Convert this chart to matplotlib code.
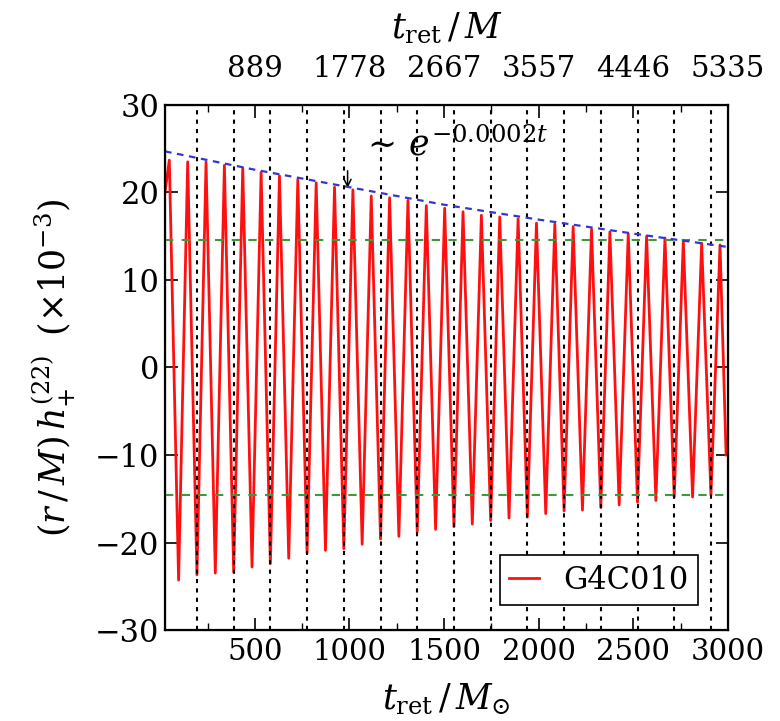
import matplotlib
matplotlib.use('Agg')
import matplotlib.pyplot as plt
from matplotlib.ticker import MultipleLocator

plt.rcParams['font.family'] = ['DejaVu Serif']
plt.rcParams['mathtext.fontset'] = 'dejavuserif'

# waveform extrema (t in M_sun, h in 1e-3)
peak_t = [48, 145, 242, 339, 436, 533, 630, 727, 824, 921, 1018, 1115, 1212, 1309, 1406,
          1503, 1600, 1697, 1794, 1891, 1988, 2085, 2182, 2279, 2376, 2473, 2570, 2667,
          2764, 2861, 2958]
peak_h = [23.7, 23.5, 23.5, 23.1, 22.8, 22.3, 21.9, 21.5, 21.1, 20.6, 20.3, 19.6, 19.4,
          19.1, 18.5, 18.2, 17.8, 17.4, 17.2, 17.0, 16.5, 16.4, 16.1, 15.8, 15.5, 15.3,
          15.0, 14.8, 14.5, 14.2, 14.0]
trough_t = [97, 194, 291, 388, 485, 582, 679, 776, 873, 970, 1067, 1164, 1261, 1358, 1455,
            1552, 1649, 1746, 1843, 1940, 2037, 2134, 2231, 2328, 2425, 2522, 2619, 2716,
            2813, 2910]
trough_h = [-24.3, -23.7, -23.5, -23.4, -22.8, -22.4, -21.8, -21.2, -20.9, -20.7, -20.2,
            -19.6, -19.3, -18.8, -18.5, -18.2, -17.9, -17.5, -17.2, -17.1, -16.7, -16.4,
            -16.3, -16.0, -15.7, -15.4, -15.2, -14.8, -14.8, -14.6]
start_pt = (25, 20.0)
end_pt = (2990, -10.0)

# exponential envelope fit, read at a few times
fit_t = [25, 500, 1000, 1500, 2000, 2500, 2990]
fit_h = [24.7, 22.6, 20.6, 18.6, 16.9, 15.3, 13.8]

band = 14.6
vline_t = [194, 388, 582, 776, 970, 1164, 1358, 1552, 1746, 1940, 2134, 2328, 2522, 2716, 2910]

bottom_ticks = [500, 1000, 1500, 2000, 2500, 3000]
top_labels = ['889', '1778', '2667', '3557', '4446', '5335']
y_ticks = [-30, -20, -10, 0, 10, 20, 30]

# join extrema into one curve
wave_t = [start_pt[0]]
wave_h = [start_pt[1]]
for i in range(len(peak_t)):
    wave_t.append(peak_t[i])
    wave_h.append(peak_h[i])
    if i < len(trough_t):
        wave_t.append(trough_t[i])
        wave_h.append(trough_h[i])
wave_t.append(end_pt[0])
wave_h.append(end_pt[1])

fig = plt.figure(figsize=(7.8, 7.21), dpi=100)
ax = fig.add_axes([0.2115, 0.1262, 0.7218, 0.7282])

ax.plot(wave_t, wave_h, color='#ff1010', lw=2.0, label='G4C010', zorder=2)
for v in vline_t:
    ax.axvline(v, color='black', lw=1.5, ls=(0, (2, 2.5)), zorder=3)
ax.axhline(band, color='#3c9a3c', lw=1.5, ls=(0, (4, 4)), zorder=3)
ax.axhline(-band, color='#3c9a3c', lw=1.5, ls=(0, (4, 4)), zorder=3)
ax.plot(fit_t, fit_h, color='#3535d0', lw=1.6, ls=(0, (3, 2.5)), zorder=4)

ax.annotate('', xy=(990, 20.2), xytext=(990, 22.8),
            arrowprops=dict(arrowstyle='->,head_length=0.5,head_width=0.25',
                            color='black', lw=1.1))
ax.text(1060, 24.2, r'$\sim\, e^{-0.0002t}$', fontsize=25, ha='left', va='baseline')

ax.set_xlim(25, 2990)
ax.set_ylim(-30, 30)
ax.set_xticks(bottom_ticks)
ax.xaxis.set_minor_locator(MultipleLocator(250))
ax.set_yticks(y_ticks)
ax.tick_params(axis='both', which='both', direction='in', labelsize=21)
ax.tick_params(axis='x', which='both', top=False, pad=6)
ax.tick_params(axis='y', which='both', right=True, pad=4, labelsize=22)
ax.tick_params(which='major', length=9, width=1.2)
ax.tick_params(which='minor', length=5, width=1.0)
for s in ax.spines.values():
    s.set_linewidth(1.6)

ax.set_xlabel(r'$t_{\rm ret}\,/\,M_{\odot}$', fontsize=25, labelpad=11)
ax.set_ylabel(r'$(r\,/\,M)\,h_{+}^{(22)}\;\;(\times 10^{-3})$', fontsize=25, labelpad=12)

ax2 = ax.twiny()
ax2.set_xlim(ax.get_xlim())
ax2.set_xticks(bottom_ticks)
ax2.set_xticklabels(top_labels)
ax2.xaxis.set_minor_locator(MultipleLocator(250))
ax2.tick_params(axis='x', which='both', direction='in', labelsize=21, pad=16)
ax2.tick_params(which='major', length=9, width=1.2)
ax2.tick_params(which='minor', length=5, width=1.0)
ax2.set_xlabel(r'$t_{\rm ret}\,/\,M$', fontsize=25, labelpad=12)

leg = ax.legend(loc='lower right', bbox_to_anchor=(0.947, 0.048), borderaxespad=0,
                fontsize=22, fancybox=False, edgecolor='black', framealpha=1,
                handlelength=1.0, handletextpad=0.8, borderpad=0.3)
leg.get_frame().set_linewidth(1.2)

fig.savefig('out.png', dpi=100)
